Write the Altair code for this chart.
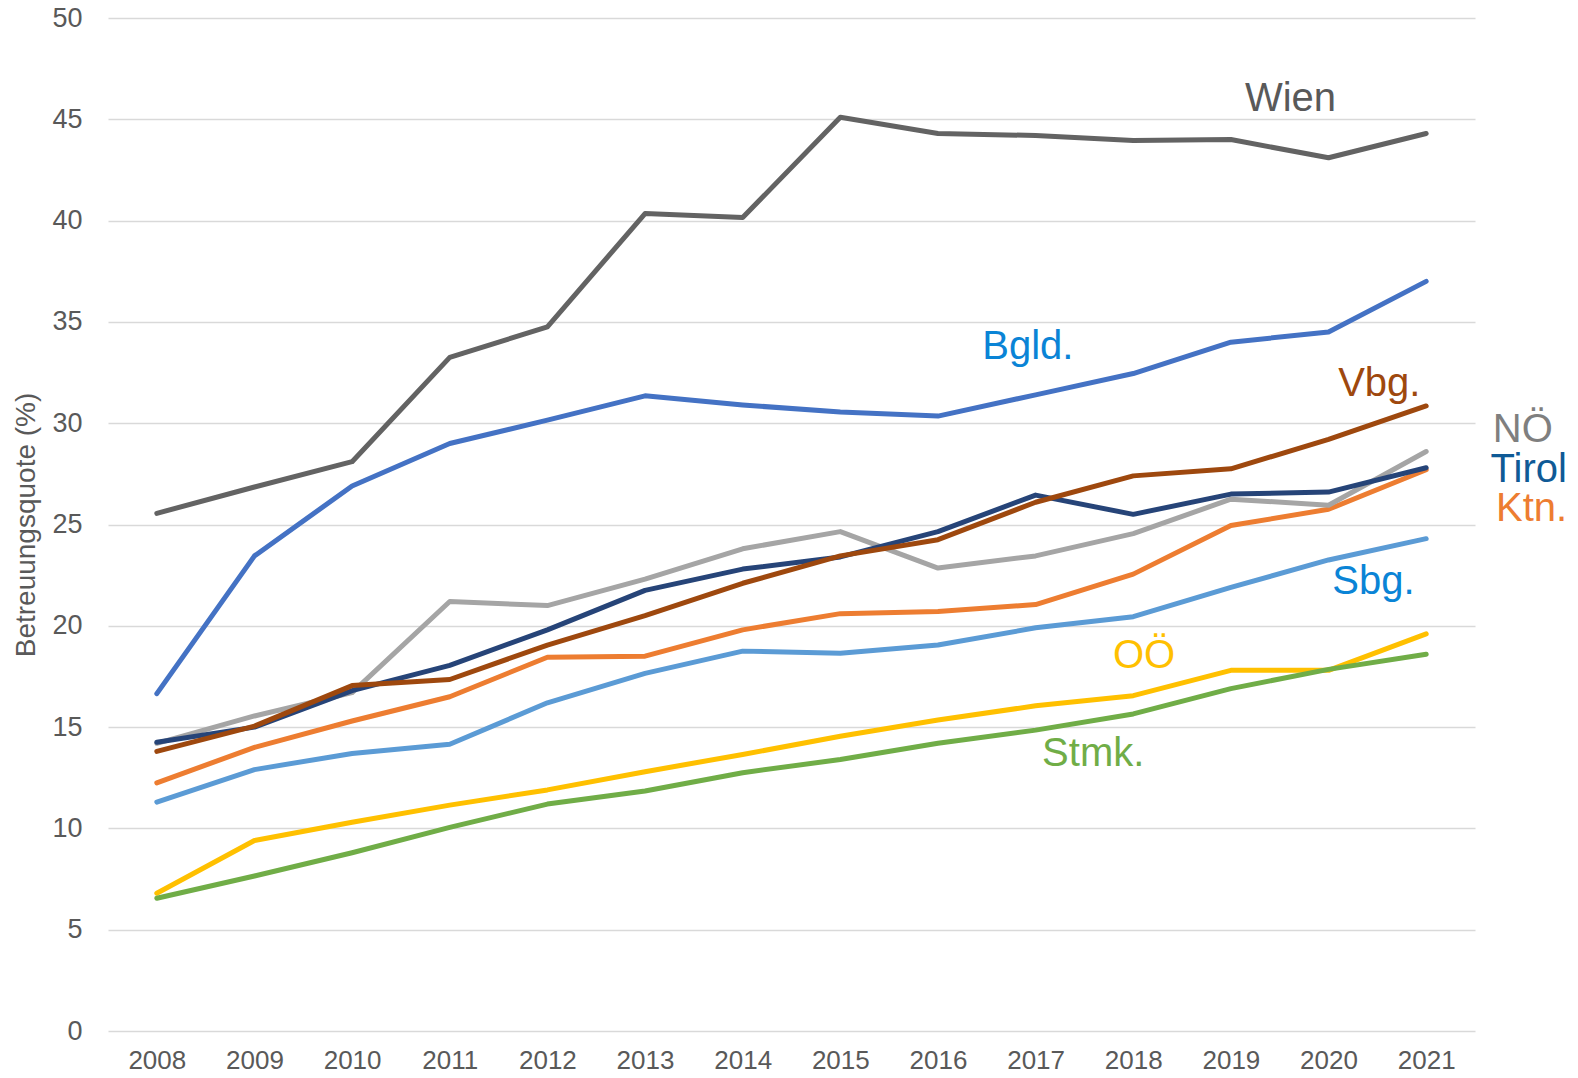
import altair as alt
import pandas as pd

years = list(range(2008, 2022))

series_names = ["Bgld.", "Ktn.", "NÖ", "OÖ", "Sbg.", "Stmk.", "Tirol", "Vbg.", "Wien"]

wien  = [25.55, 26.85, 28.1, 33.25, 34.75, 40.35, 40.15, 45.1, 44.3, 44.2, 43.95, 44.0, 43.1, 44.3]
bgld  = [16.65, 23.45, 26.9, 29.0, 30.15, 31.35, 30.9, 30.55, 30.35, 31.4, 32.45, 34.0, 34.5, 37.0]
noe   = [14.2, 15.55, 16.7, 21.2, 21.0, 22.3, 23.8, 24.65, 22.85, 23.45, 24.55, 26.25, 25.95, 28.6]
tirol = [14.25, 15.0, 16.8, 18.05, 19.8, 21.75, 22.8, 23.4, 24.65, 26.45, 25.5, 26.5, 26.6, 27.8]
vbg   = [13.8, 15.05, 17.05, 17.35, 19.05, 20.5, 22.1, 23.45, 24.25, 26.1, 27.4, 27.75, 29.2, 30.85]
ktn   = [12.25, 14.0, 15.3, 16.5, 18.45, 18.5, 19.8, 20.6, 20.7, 21.05, 22.55, 24.95, 25.75, 27.7]
sbg   = [11.3, 12.9, 13.7, 14.15, 16.2, 17.65, 18.75, 18.65, 19.05, 19.9, 20.45, 21.9, 23.25, 24.3]
ooe   = [6.8, 9.4, 10.3, 11.15, 11.9, 12.8, 13.65, 14.55, 15.35, 16.05, 16.55, 17.8, 17.8, 19.6]
stmk  = [6.55, 7.65, 8.8, 10.05, 11.2, 11.85, 12.75, 13.4, 14.2, 14.85, 15.65, 16.9, 17.85, 18.6]

series_values = {
    "Bgld.": bgld, "Ktn.": ktn, "NÖ": noe, "OÖ": ooe, "Sbg.": sbg,
    "Stmk.": stmk, "Tirol": tirol, "Vbg.": vbg, "Wien": wien,
}

line_colors = ["#4472c4", "#ed7d31", "#a5a5a5", "#ffc000", "#5b9bd5",
               "#70ad47", "#264478", "#9e480e", "#636363"]

label_names = ["Wien", "Bgld.", "Vbg.", "NÖ", "Tirol", "Ktn.", "Sbg.", "OÖ", "Stmk."]
label_x = [2019.61, 2016.92, 2020.52, 2021.99, 2022.05, 2022.08, 2020.46, 2018.11, 2017.59]
label_y = [46.0, 33.76, 31.93, 29.66, 27.69, 25.77, 22.16, 18.5, 13.67]
label_colors = ["#595959", "#0a84d6", "#9e480e", "#7f7f7f", "#0f5a96",
                "#ed7d31", "#0a84d6", "#ffc000", "#70ad47"]

rows = []
for i, name in enumerate(series_names):
    for y, v in zip(years, series_values[name]):
        rows.append({"Land": name, "Jahr": y, "Quote": v, "ord": i})
df = pd.DataFrame(rows)

lab = pd.DataFrame({"Land": label_names, "x": label_x, "y": label_y, "c": label_colors})

FONT = "Liberation Sans"

xscale = alt.Scale(domain=[2007.5, 2021.5], nice=False, zero=False)
yscale = alt.Scale(domain=[0, 50], nice=False)

lines = alt.Chart(df).mark_line(strokeWidth=5, strokeCap="round", strokeJoin="round").encode(
    x=alt.X("Jahr:Q", scale=xscale,
            axis=alt.Axis(values=years, format="d", title=None, grid=False, domain=False,
                          ticks=False, labelFontSize=26, labelColor="#595959", labelFont=FONT,
                          labelPadding=16, labelFlush=False)),
    y=alt.Y("Quote:Q", scale=yscale,
            axis=alt.Axis(values=list(range(0, 51, 5)), title="Betreuungsquote (%)",
                          domain=False, ticks=False, grid=True, gridColor="#d9d9d9", gridWidth=1.6,
                          labelFontSize=27, labelColor="#595959", labelFont=FONT, labelPadding=26,
                          titleFont=FONT, titleFontSize=28, titleFontWeight="normal",
                          titleColor="#595959", titlePadding=11)),
    color=alt.Color("Land:N", scale=alt.Scale(domain=series_names, range=line_colors), legend=None),
    order=alt.Order("ord:Q"),
    detail="Land:N",
)

texts = alt.Chart(lab).mark_text(fontSize=40, font=FONT, align="center", baseline="middle").encode(
    x=alt.X("x:Q", scale=xscale),
    y=alt.Y("y:Q", scale=yscale),
    text="Land:N",
    color=alt.Color("c:N", scale=None),
)

chart = alt.layer(lines, texts).properties(
    width=1367, height=1013,
    autosize=alt.AutoSizeParams(type="none"),
    padding={"left": 100, "top": 10, "right": 95, "bottom": 39},
).configure(background="white").configure_view(stroke=None, strokeWidth=0)

chart.save("out.html", embed_options={"renderer": "svg", "actions": False})
